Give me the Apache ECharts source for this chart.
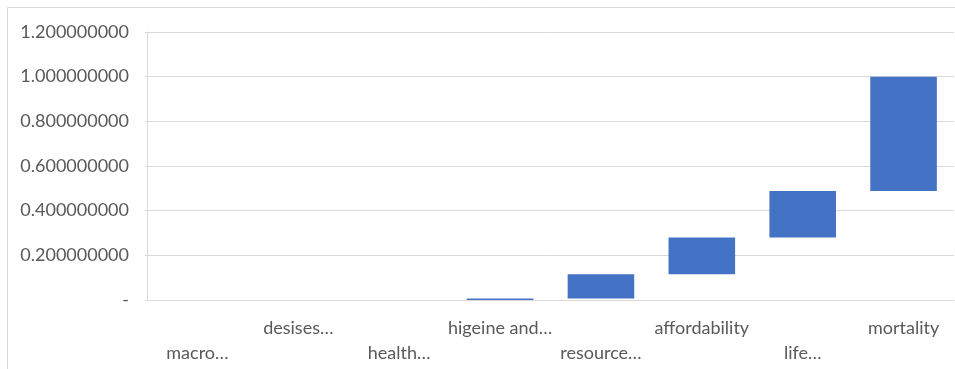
<!DOCTYPE html>
<html>
<head>
<meta charset="utf-8">
<script src="https://cdn.jsdelivr.net/npm/echarts@6/dist/echarts.min.js"></script>
<style>
  html, body { margin: 0; padding: 0; background: #fff; }
  #chart { width: 955px; height: 369px; }
</style>
</head>
<body>
<div id="chart"></div>
<script>
// Waterfall: each category adds an increment on top of the running total
const categories = ['macro…', 'desises…', 'health…', 'higeine and…', 'resource…', 'affordability', 'life…', 'mortality'];
const increments = [0, 0, 0.0005, 0.0065, 0.108, 0.165, 0.208, 0.512];
const yTicks = [0, 0.2, 0.4, 0.6, 0.8, 1.0, 1.2];

// invisible base = running total before each step
const bases = [];
let running = 0;
for (const v of increments) { bases.push(running); running += v; }

const chart = echarts.init(document.getElementById('chart'));
chart.setOption({
  animation: false,
  textStyle: { fontFamily: 'Lato' },
  grid: { left: 147, right: 1, top: 32, bottom: 69, containLabel: false },
  graphic: [{
    type: 'rect', silent: true,
    shape: { x: 7.5, y: 7.5, width: 960, height: 380 },
    style: { fill: 'none', stroke: '#d9d9d9', lineWidth: 1 }
  }],
  xAxis: {
    type: 'category',
    data: categories,
    axisLine: { show: true, lineStyle: { color: '#d9d9d9' } },
    axisTick: { show: false },
    axisLabel: {
      interval: 0,
      color: '#595959',
      fontSize: 18,
      lineHeight: 25,
      margin: 16,
      formatter: (v, i) => (i % 2 === 0 ? '\n' + v : v)
    }
  },
  yAxis: {
    type: 'value',
    min: yTicks[0],
    max: yTicks[yTicks.length - 1],
    interval: 0.2,
    axisLine: { show: true, lineStyle: { color: '#d9d9d9' } },
    axisTick: { show: true, length: 2, lineStyle: { color: '#d9d9d9' } },
    splitLine: { lineStyle: { color: '#d9d9d9', width: 1 } },
    axisLabel: {
      color: '#595959',
      fontSize: 18,
      margin: 18,
      formatter: v => (Math.abs(v) < 1e-9 ? '-' : v.toFixed(9))
    }
  },
  series: [
    {
      type: 'bar', stack: 'w', data: bases,
      itemStyle: { color: 'transparent' },
      barWidth: '66%', silent: true
    },
    {
      type: 'bar', stack: 'w', data: increments,
      barWidth: '66%',
      itemStyle: { color: '#4472c4' }
    }
  ]
});
</script>
</body>
</html>
